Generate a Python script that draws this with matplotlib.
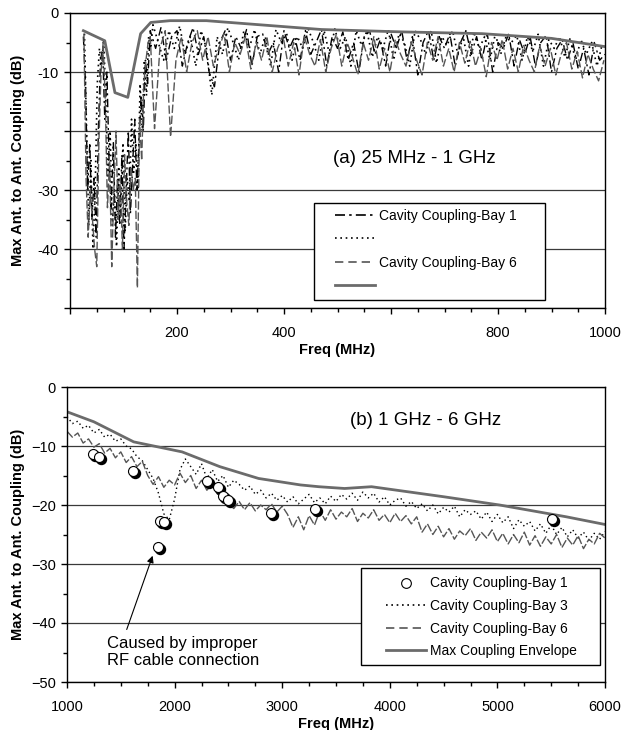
import numpy as np
import matplotlib
matplotlib.use('Agg')
import matplotlib.pyplot as plt
from matplotlib.lines import Line2D
from matplotlib.patches import Rectangle
from matplotlib import transforms

plt.rcParams['font.family'] = ['Liberation Sans', 'DejaVu Sans']

# ---- (a) 25 MHz - 1 GHz : values (dB) ----
# low band 25-150 MHz
bay1_top_low = [-4, -12, -30, -22, -35, -28, -38, -20, -8, -6, -18, -10, -25, -33, -22, -38,
                -28, -36, -24, -40, -30, -20, -34, -26, -18, -30, -22, -14, -20, -8, -12, -5]
bay3_top_low = [-3.5, -20, -36, -25, -40, -30, -12, -6, -9, -4.5, -15, -28, -20, -36, -30, -39.6,
                -26, -34, -22, -37, -28, -32, -18, -27, -22, -30, -12, -20, -8, -14, -4, -6]
bay6_top_low = [-3.5, -28, -38, -30, -35, -40, -43, -22, -10, -5, -15, -33, -25, -43, -30, -20,
                -35, -28, -40, -24, -32, -36, -26, -30, -28, -46.6, -18, -25, -12, -8, -5, -4]
# upper band 150-1000 MHz
bay1_top_high = [-3, -6, -2.5, -8, -4, -3, -9, -5, -2.5, -7, -4,
                 -10, -12.5, -5, -3, -8, -4, -6, -2.8, -9, -4,
                 -3.5, -7, -5, -10, -3, -6, -4, -8, -3, -7,
                 -5, -2.8, -9, -4, -6, -3.2, -8, -5, -10, -4,
                 -3, -7, -4.5, -9, -3.5, -6, -3, -8, -4, -10.5,
                 -5, -3, -8, -4, -6, -3.5, -9, -5, -3, -7,
                 -4, -8, -3.5, -10, -5, -6, -3.5, -9, -4.5, -7,
                 -4, -9, -5, -3.8, -10, -6, -4.5, -8, -5, -9.5,
                 -6, -10.5, -5, -8, -7]
bay3_top_high = [-2, -5, -8, -3, -6, -2.2, -7, -4, -9, -3,
                 -6, -13.9, -4, -7, -2.5, -5, -8, -3, -6, -2.8,
                 -7, -4, -9, -2.8, -5, -3.5, -8, -4, -6, -2.6,
                 -5, -8, -3, -7, -2.7, -6, -4, -9, -3, -5.5,
                 -3, -7.5, -4, -6, -2.8, -8, -3.5, -5, -9, -3,
                 -4.5, -7, -3, -8.5, -4, -5.5, -3, -7, -4, -9,
                 -3.2, -6, -4, -8, -3.5, -7, -4, -5, -3.8, -8,
                 -4, -6.5, -3.6, -9, -4.5, -6, -4, -7.5, -4.2, -8,
                 -4.5, -7, -5, -9, -5.2]
bay6_top_high = [-19.6, -6, -3, -21, -8, -4, -10, -5, -3, -8,
                 -4, -9, -6, -3.5, -10, -5, -7, -4, -9.5, -5,
                 -8, -4, -10, -6, -3.8, -9, -5, -10.5, -4, -7,
                 -9, -4.5, -10, -6, -3.6, -9, -5, -7.5, -10.5, -5,
                 -8, -4, -9.5, -6, -10, -4.5, -7, -9, -5, -8,
                 -10.5, -5, -8, -4, -9, -6, -10, -5, -8.5, -4.8,
                 -9, -6, -10.8, -5, -8, -4.5, -9.5, -6, -10, -5.5,
                 -8, -10, -5.5, -9, -6, -10.5, -7, -5, -9.5, -6.5,
                 -11, -7, -9.5, -11.5, -8]
env_top_f = [25, 65, 84, 108, 132, 151, 187, 255, 470, 620, 770, 900, 1000]
env_top_db = [-3.0, -4.7, -13.5, -14.3, -3.5, -1.6, -1.3, -1.3, -2.8, -3.2, -3.5, -4.3, -5.7]

# ---- (b) 1 GHz - 6 GHz ----
bay1_bot_f = [1240, 1295, 1615, 1850, 1868, 1898, 2300, 2400, 2448, 2500, 2895, 3305, 5510]
bay1_bot_db = [-11.4, -11.8, -14.2, -27.2, -22.7, -22.8, -15.9, -17.0, -18.5, -19.1, -21.3, -20.6, -22.4]
bay3_bot = [-5.0, -6.2, -5.8, -7.0, -6.5, -7.8, -7.2, -8.5, -8.0, -9.2, -8.8, -10.0, -10.5, -11.8,
            -12.5, -14.0, -15.5, -18.0, -21.5, -22.5, -19.0, -14.0, -12.2, -13.5, -14.8, -13.0,
            -15.5, -14.0, -16.0, -15.0, -17.0, -15.8, -16.5, -17.5, -16.8, -18.2, -17.5, -18.8,
            -18.0, -19.2, -18.4, -19.5, -18.6, -19.8, -19.0, -18.2, -19.6, -18.8, -19.8, -18.5,
            -19.4, -18.2, -19.0, -18.0, -19.2, -17.8, -18.8, -18.0, -19.5, -18.6, -20.0, -19.2,
            -18.8, -20.2, -19.4, -20.6, -19.8, -21.0, -20.0, -21.5, -20.4, -21.2, -20.2, -22.0,
            -20.8, -21.6, -21.0, -22.4, -21.2, -22.8, -21.6, -23.0, -22.0, -24.0, -22.5, -23.6,
            -22.8, -24.4, -23.2, -24.8, -23.4, -25.0, -23.8, -25.4, -24.2, -25.6, -24.6, -26.0,
            -24.8, -25.8, -24.5]
bay6_bot = [-7.5, -8.5, -7.8, -9.5, -8.8, -10.2, -9.6, -11.2, -10.4, -12.0, -11.0, -12.8, -11.8,
            -13.5, -12.6, -15.0, -16.5, -15.2, -17.0, -15.8, -16.6, -14.6, -16.2, -15.0, -17.2,
            -15.8, -17.5, -16.4, -18.2, -17.6, -19.8, -20.6, -19.4, -20.8, -19.6, -21.0, -20.0,
            -20.8, -19.8, -21.2, -20.2, -21.6, -23.8, -22.0, -24.2, -21.8, -23.4, -21.0, -22.6,
            -20.8, -22.4, -21.2, -22.0, -20.6, -22.8, -21.4, -22.2, -20.8, -22.6, -21.6, -23.0,
            -21.4, -22.8, -21.8, -23.2, -22.0, -24.6, -23.2, -25.0, -23.6, -25.4, -24.0, -25.8,
            -24.4, -25.2, -24.0, -26.0, -24.6, -25.6, -24.2, -26.2, -24.8, -26.6, -25.0, -26.4,
            -24.6, -26.8, -25.2, -27.0, -25.4, -26.6, -25.0, -27.2, -25.6, -26.8, -25.2, -27.4,
            -25.8, -26.6, -24.8, -25.6]
env_bot_f = [1000, 1250, 1620, 2070, 2420, 2780, 3170, 3340, 3580, 3830, 4500, 5020, 5640, 6000]
env_bot_db = [-4.2, -5.9, -9.3, -11, -13.5, -15.5, -16.6, -16.9, -17.2, -16.9, -18.6, -20, -22, -23.3]


# frequency sweeps of the measured traces
def sweep(lo_vals, hi_vals, lo_start, lo_end, hi_start, hi_end):
    return np.concatenate([np.linspace(lo_start, lo_end, len(lo_vals)),
                           np.linspace(hi_start, hi_end, len(hi_vals))])


f1 = sweep(bay1_top_low, bay1_top_high, 25, 149, 150, 1000)
f3 = sweep(bay3_top_low, bay3_top_high, 27, 151, 155, 995)
f6 = sweep(bay6_top_low, bay6_top_high, 26, 150, 158, 998)
fb = np.linspace(1000, 6000, len(bay3_bot))
fb6 = np.linspace(1000, 6000, len(bay6_bot))

# styles
GRAY = '#555555'
ENV = '#6b6b6b'
DASHDOT = (0, (6, 2.5, 1.5, 2.5))
DOT = (0, (1, 2.2))
DASH = (0, (5, 3))

fig = plt.figure(figsize=(6.31, 7.30), dpi=100)
ax1 = fig.add_axes([70/631, 1-308/730, 535/631, 295/730])
ax2 = fig.add_axes([67/631, 1-682/730, 538/631, 295/730])


def style(ax):
    for s in ax.spines.values():
        s.set_linewidth(1.0)
        s.set_color('black')
    ax.tick_params(which='both', direction='out', width=1, colors='black')
    ax.tick_params(which='major', length=4, labelsize=10.5)
    ax.tick_params(which='minor', length=3)
    ax.tick_params(axis='x', pad=9)
    ax.tick_params(axis='y', pad=4)
    ax.yaxis.grid(True, which='major', color='#3a3a3a', lw=0.9)
    ax.set_axisbelow(True)
    ax.set_ylim(-50, 0)


def boxed_legend(ax, handles, labels, box, anchor, spacing):
    # white box with black edge, legend text placed inside it
    x0, y0, x1, y1 = box
    ax.add_patch(Rectangle((x0, y0), x1 - x0, y1 - y0, transform=ax.transAxes,
                           facecolor='white', edgecolor='black', lw=1.0, zorder=6))
    leg = ax.legend(handles, labels, loc='center left', bbox_to_anchor=anchor,
                    fontsize=10, frameon=False, handlelength=2.9, handletextpad=0.25,
                    labelspacing=spacing, borderpad=0, borderaxespad=0)
    leg.set_zorder(7)
    return leg


# ---- top panel ----
style(ax1)
ax1.plot(f1, bay1_top_low + bay1_top_high, color='black', lw=1.0, ls=DASHDOT)
ax1.plot(f3, bay3_top_low + bay3_top_high, color='black', lw=1.2, ls=DOT)
ax1.plot(f6, bay6_top_low + bay6_top_high, color=GRAY, lw=1.0, ls=(0, (6, 2)))
ax1.plot(env_top_f, env_top_db, color=ENV, lw=2.0)
ax1.set_xlim(0, 1000)
ax1.set_xticks(np.arange(0, 1001, 200))
ax1.set_xticklabels(['', '200', '400', '', '800', '1000'])
ax1.set_xticks(np.arange(0, 1001, 50), minor=True)
ax1.set_yticks(np.arange(-50, 1, 10))
ax1.set_yticklabels(['', '-40', '-30', '', '-10', '0'])
ax1.set_yticks(np.arange(-50, 1, 5), minor=True)
ax1.set_xlabel('Freq (MHz)', fontsize=10.5, fontweight='bold', labelpad=2)
ax1.set_ylabel('Max Ant. to Ant. Coupling (dB)', fontsize=10.5, fontweight='bold')
ax1.yaxis.set_label_coords(-0.085, 0.5)
ax1.text(492, -24.6, '(a) 25 MHz - 1 GHz', fontsize=13.5, va='center', ha='left')

h_top = [Line2D([], [], color='black', lw=1.2, ls=DASHDOT),
         Line2D([], [], color='black', lw=1.2, ls=DOT),
         Line2D([], [], color=GRAY, lw=1.2, ls=DASH),
         Line2D([], [], color=ENV, lw=2.0)]
l_top = ['Cavity Coupling-Bay 1', '', 'Cavity Coupling-Bay 6', '']
boxed_legend(ax1, h_top, l_top, (0.456, 0.027, 0.888, 0.356), (0.495, 0.193), 0.68)

# ---- bottom panel ----
style(ax2)
ax2.plot(fb, bay3_bot, color='black', lw=1.0, ls=DOT)
ax2.plot(fb6, bay6_bot, color=GRAY, lw=1.0, ls=(0, (6, 1.5)))
ax2.plot(env_bot_f, env_bot_db, color=ENV, lw=2.0)
shadow = transforms.offset_copy(ax2.transData, fig=fig, x=2, y=-2, units='dots')
ax2.plot(bay1_bot_f, bay1_bot_db, 'o', ms=7.2, mfc='black', mec='black', transform=shadow, zorder=3)
ax2.plot(bay1_bot_f, bay1_bot_db, 'o', ms=7.2, mfc='white', mec='black', mew=0.8, zorder=3.1)
ax2.set_xlim(1000, 6000)
ax2.set_xticks(np.arange(1000, 6001, 1000))
ax2.set_xticks(np.arange(1000, 6001, 250), minor=True)
ax2.set_yticks(np.arange(-50, 1, 10))
ax2.set_yticks(np.arange(-50, 1, 5), minor=True)
ax2.set_xlabel('Freq (MHz)', fontsize=10.5, fontweight='bold', labelpad=2)
ax2.set_ylabel('Max Ant. to Ant. Coupling (dB)', fontsize=10.5, fontweight='bold')
ax2.yaxis.set_label_coords(-0.078, 0.5)
ax2.text(3630, -5.6, '(b) 1 GHz - 6 GHz', fontsize=13.5, va='center', ha='left')
ax2.text(1372, -44.9, 'Caused by improper\nRF cable connection', fontsize=12,
         va='center', ha='left', linespacing=1.2)
ax2.annotate('', xy=(1796, -28.6), xytext=(1555, -41.1),
             arrowprops=dict(arrowstyle='-|>', color='black', lw=0.8, mutation_scale=10,
                             shrinkA=0, shrinkB=0))

h_bot = [Line2D([], [], ls='none', marker='o', ms=7, mfc='white', mec='black', mew=0.8),
         Line2D([], [], color='black', lw=1.2, ls=DOT),
         Line2D([], [], color=GRAY, lw=1.2, ls=DASH),
         Line2D([], [], color=ENV, lw=2.0)]
l_bot = ['Cavity Coupling-Bay 1', 'Cavity Coupling-Bay 3', 'Cavity Coupling-Bay 6',
         'Max Coupling Envelope']
boxed_legend(ax2, h_bot, l_bot, (0.546, 0.058, 0.991, 0.386), (0.593, 0.219), 0.62)

fig.savefig('out.png', dpi=100)
